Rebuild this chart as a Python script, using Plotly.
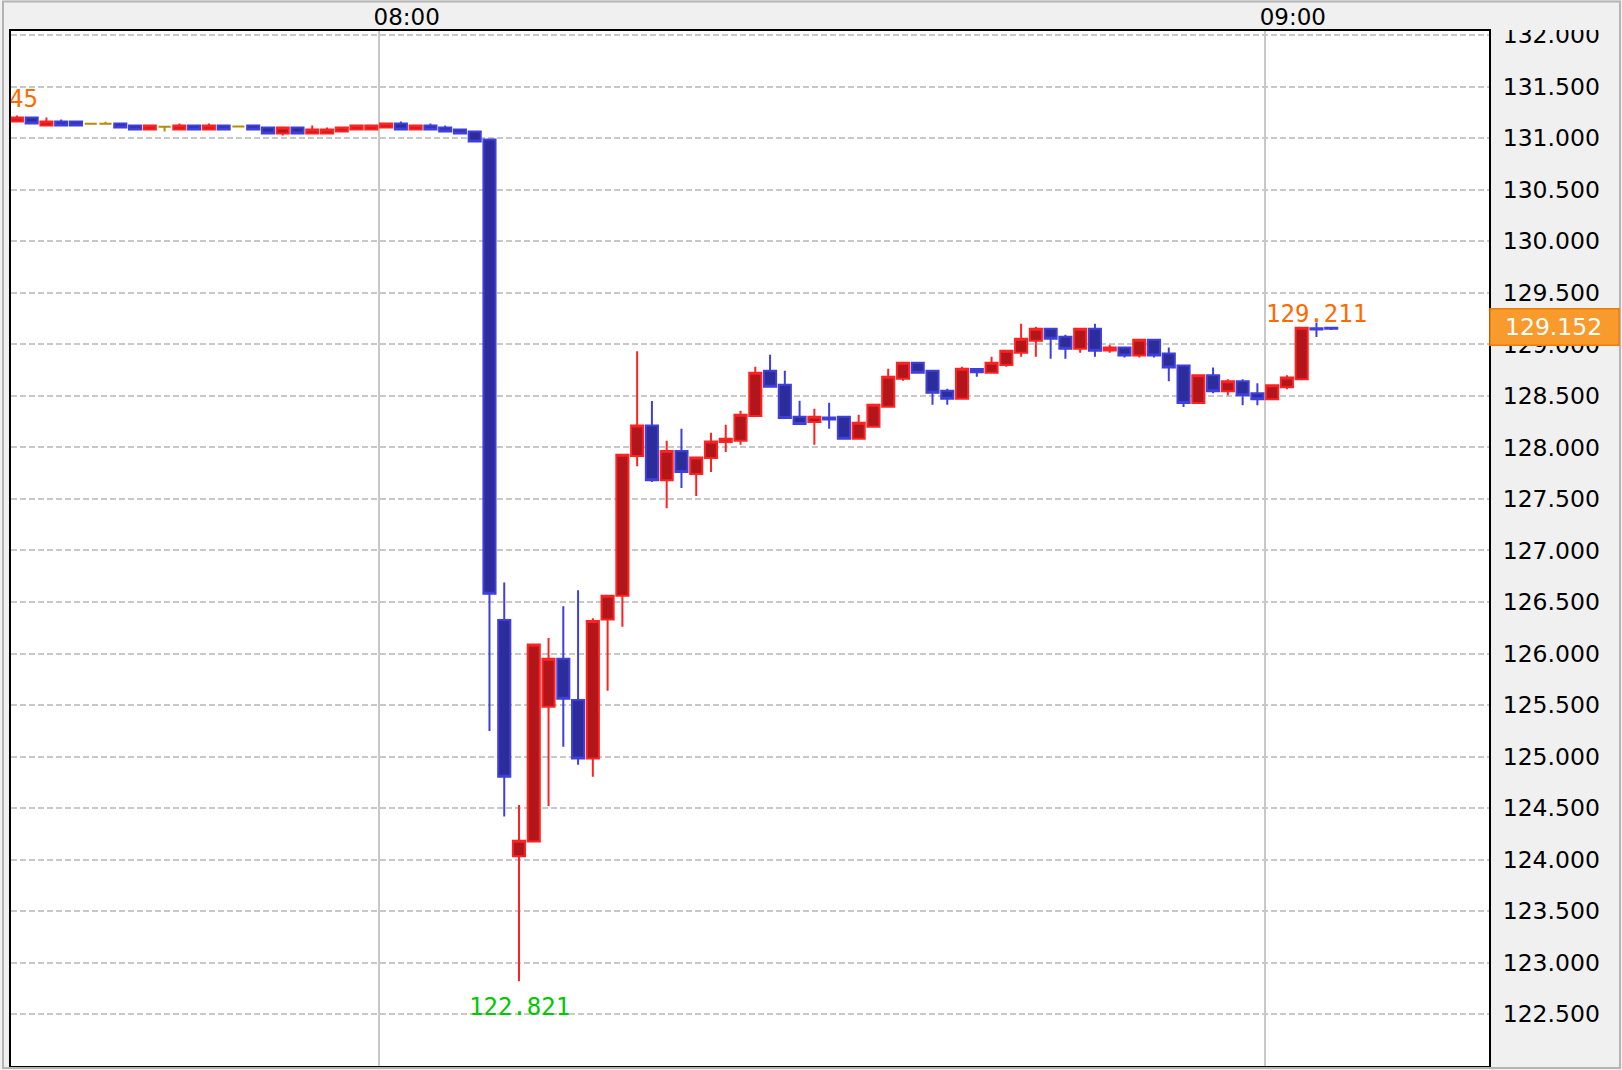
import plotly.graph_objects as go
import pandas as pd

# ======================================
# DATA (1 minute bars, 07:35 - 09:04)
# ======================================

start_time = "2024-01-01 07:35"

opens = [
    131.162, 131.200, 131.123, 131.162, 131.162, 131.140, 131.140, 131.142, 131.123, 131.084,
    131.110, 131.084, 131.123, 131.084, 131.123, 131.113, 131.123, 131.103, 131.045, 131.103,
    131.045, 131.045, 131.065, 131.084, 131.084, 131.103, 131.142, 131.084, 131.123, 131.103,
    131.084, 131.065, 130.987, 126.325, 124.032, 124.176, 125.484, 125.950, 125.550, 124.982,
    126.330, 126.560, 127.916, 128.213, 127.680, 127.964, 127.741, 127.897, 128.052, 128.065,
    128.304, 128.743, 128.608, 128.297, 128.246, 128.290, 128.297, 128.084, 128.200, 128.394,
    128.666, 128.821, 128.743, 128.549, 128.472, 128.760, 128.724, 128.800, 128.918, 129.034,
    129.151, 129.073, 128.957, 129.151, 128.940, 128.968, 128.891, 129.045, 128.910, 128.795,
    128.430, 128.699, 128.545, 128.641, 128.526, 128.468, 128.583, 128.660, 129.155, 129.160,
]

highs = [
    131.220, 131.200, 131.200, 131.181, 131.162, 131.140, 131.160, 131.142, 131.123, 131.123,
    131.110, 131.142, 131.123, 131.142, 131.123, 131.113, 131.123, 131.103, 131.103, 131.103,
    131.123, 131.103, 131.103, 131.123, 131.123, 131.142, 131.162, 131.123, 131.142, 131.123,
    131.084, 131.065, 130.990, 126.690, 124.530, 126.087, 126.150, 126.459, 126.613, 126.343,
    126.560, 127.930, 128.934, 128.449, 128.065, 128.181, 127.903, 128.142, 128.220, 128.356,
    128.782, 128.898, 128.743, 128.452, 128.375, 128.433, 128.297, 128.317, 128.414, 128.763,
    128.821, 128.821, 128.743, 128.569, 128.782, 128.760, 128.879, 128.937, 129.200, 129.170,
    129.151, 129.092, 129.151, 129.200, 128.995, 128.968, 129.045, 129.045, 128.968, 128.795,
    128.699, 128.776, 128.660, 128.660, 128.622, 128.603, 128.699, 129.160, 129.211, 129.170,
]

lows = [
    131.162, 131.142, 131.123, 131.123, 131.123, 131.140, 131.140, 131.103, 131.084, 131.084,
    131.065, 131.084, 131.084, 131.084, 131.084, 131.113, 131.084, 131.045, 131.026, 131.045,
    131.045, 131.045, 131.065, 131.084, 131.084, 131.103, 131.084, 131.084, 131.084, 131.065,
    131.045, 130.968, 125.249, 124.418, 122.821, 124.176, 124.520, 125.095, 124.920, 124.804,
    125.640, 126.260, 127.816, 127.664, 127.410, 127.606, 127.528, 127.761, 127.955, 128.026,
    128.304, 128.588, 128.284, 128.226, 128.026, 128.181, 128.084, 128.084, 128.200, 128.394,
    128.646, 128.724, 128.414, 128.414, 128.472, 128.685, 128.724, 128.782, 128.879, 128.879,
    128.860, 128.860, 128.918, 128.879, 128.918, 128.872, 128.872, 128.872, 128.641, 128.391,
    128.430, 128.526, 128.506, 128.410, 128.410, 128.468, 128.564, 128.660, 129.070, 129.140,
]

closes = [
    131.200, 131.142, 131.162, 131.123, 131.123, 131.140, 131.140, 131.103, 131.084, 131.123,
    131.110, 131.123, 131.084, 131.123, 131.084, 131.113, 131.084, 131.045, 131.103, 131.045,
    131.084, 131.084, 131.103, 131.123, 131.123, 131.142, 131.084, 131.123, 131.084, 131.065,
    131.045, 130.968, 126.581, 124.804, 124.183, 126.087, 125.950, 125.561, 124.982, 126.316,
    126.560, 127.929, 128.213, 127.680, 127.964, 127.761, 127.903, 128.058, 128.084, 128.317,
    128.724, 128.588, 128.284, 128.226, 128.297, 128.270, 128.084, 128.239, 128.414, 128.685,
    128.821, 128.724, 128.530, 128.472, 128.763, 128.730, 128.821, 128.937, 129.054, 129.151,
    129.054, 128.957, 129.151, 128.937, 128.970, 128.891, 129.045, 128.891, 128.776, 128.430,
    128.699, 128.545, 128.641, 128.506, 128.468, 128.603, 128.679, 129.160, 129.145, 129.152,
]

# session high, just left of the window (only its tail shows)
edge_high_time = "2024-01-01 07:33"
edge_high = 131.245

# low / high printed next to their bars
label_times = ["2024-01-01 08:09", "2024-01-01 09:03"]
label_prices = [122.821, 129.211]
label_colors = ["#00c800", "#ff6a00"]
label_shifts = [-26, 9]

last_price = 129.152

time_ticks = ["2024-01-01 08:00", "2024-01-01 09:00"]
time_tick_text = ["08:00", "09:00"]

x_range = ["2024-01-01 07:35:06", "2024-01-01 09:15:11"]
y_range = [121.998, 132.04]

# ======================================
# COLOURS
# ======================================

UP_LINE = "#ff2222"
UP_FILL = "#b3161a"
DOWN_LINE = "#3f3fdc"
DOWN_FILL = "#2c2c9a"
DOJI = "#b48c08"
GRID = "#c8c8c8"
PAPER = "#f0f0f0"
HIGH_COLOR = "#ff6a00"

# ======================================
# BARS
# ======================================

df = pd.DataFrame(
    {
        "time": pd.date_range(start_time, periods=len(opens), freq="min"),
        "open": opens,
        "high": highs,
        "low": lows,
        "close": closes,
    }
)

# a bar fills its minute, so it is drawn at the middle of it
half_bar = pd.Timedelta(seconds=30)
df["pos"] = df["time"] + half_bar

doji = df[df["open"] == df["close"]]
bars = df[df["open"] != df["close"]]

fig = go.Figure()

fig.add_trace(
    go.Candlestick(
        x=bars["pos"],
        open=bars["open"],
        high=bars["high"],
        low=bars["low"],
        close=bars["close"],
        increasing=dict(line=dict(color=UP_LINE, width=2), fillcolor=UP_FILL),
        decreasing=dict(line=dict(color=DOWN_LINE, width=2), fillcolor=DOWN_FILL),
        whiskerwidth=0,
        name="bars",
    )
)

fig.add_trace(
    go.Candlestick(
        x=doji["pos"],
        open=doji["open"],
        high=doji["high"],
        low=doji["low"],
        close=doji["close"],
        increasing=dict(line=dict(color=DOJI, width=2), fillcolor=DOJI),
        decreasing=dict(line=dict(color=DOJI, width=2), fillcolor=DOJI),
        whiskerwidth=0,
        name="doji",
    )
)

# ======================================
# HIGH / LOW LABELS
# ======================================

# drawn as a trace so the plot area clips it
fig.add_trace(
    go.Scatter(
        x=[pd.Timestamp(edge_high_time) + half_bar],
        y=[edge_high],
        mode="text",
        text=[f"{edge_high:.3f}"],
        textposition="top center",
        textfont=dict(family="DejaVu Sans Mono", size=24, color=HIGH_COLOR),
        cliponaxis=True,
        hoverinfo="skip",
    )
)

for t, p, c, s in zip(label_times, label_prices, label_colors, label_shifts):

    fig.add_annotation(
        x=pd.Timestamp(t) + half_bar,
        y=p,
        text=f"{p:.3f}",
        showarrow=False,
        yanchor="middle",
        yshift=s,
        font=dict(family="DejaVu Sans Mono", size=24, color=c),
    )

# ======================================
# LAYOUT
# ======================================

fig.update_layout(
    width=1622,
    height=1070,
    margin=dict(l=11, r=133, t=31, b=2),
    paper_bgcolor=PAPER,
    plot_bgcolor="white",
    showlegend=False,
    hovermode=False,
    boxgap=0.18,
    boxgroupgap=0,
    font=dict(family="DejaVu Sans", size=23.5, color="black"),
)

fig.update_xaxes(
    type="date",
    range=x_range,
    side="top",
    tickvals=time_ticks,
    ticktext=time_tick_text,
    ticks="",
    ticklabelshift=28,
    ticklabelstandoff=-5,
    tickfont=dict(size=23),
    showgrid=True,
    gridcolor=GRID,
    gridwidth=2,
    showline=True,
    mirror=True,
    linecolor="black",
    linewidth=2,
    rangeslider=dict(visible=False),
    zeroline=False,
)

fig.update_yaxes(
    range=y_range,
    side="right",
    tick0=122,
    dtick=0.5,
    tickformat=".3f",
    ticks="",
    ticklabelstandoff=7,
    showgrid=True,
    gridcolor=GRID,
    gridwidth=2,
    griddash="6px,3px",
    showline=True,
    mirror=True,
    linecolor="black",
    linewidth=2,
    zeroline=False,
)

# hide the axis labels that run above the plot top
fig.add_shape(
    type="rect",
    xref="paper",
    yref="paper",
    x0=1.002,
    x1=1.09,
    y0=1.001,
    y1=1.03,
    fillcolor=PAPER,
    line=dict(width=0),
    layer="above",
)

# outer frame
fig.add_shape(
    type="rect",
    xref="paper",
    yref="paper",
    x0=-0.0054,
    x1=1.0886,
    y0=-0.002,
    y1=1.0285,
    line=dict(color="#b4b4b4", width=2),
    layer="above",
)

# current price box
fig.add_shape(
    type="rect",
    xref="paper",
    yref="y",
    xsizemode="pixel",
    ysizemode="pixel",
    xanchor=1,
    yanchor=last_price,
    x0=1,
    x1=130,
    y0=-16.5,
    y1=20,
    fillcolor="#f89b2c",
    line=dict(color="#f07c00", width=1.5),
    layer="above",
)

fig.add_annotation(
    x=1,
    xref="paper",
    y=last_price,
    yref="y",
    xanchor="left",
    xshift=14,
    yshift=2,
    text=f"{last_price:.3f}",
    showarrow=False,
    font=dict(family="DejaVu Sans", size=23.5, color="white"),
)

# page body has a default margin, drop it so the chart fills the window
fig.write_html(
    "out.html",
    config={"displayModeBar": False},
    post_script="document.body.style.margin = '0px';",
)
